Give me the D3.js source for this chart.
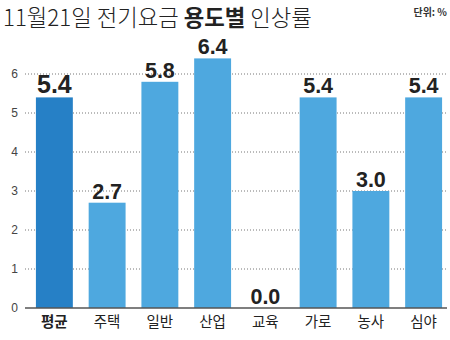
<!DOCTYPE html>
<html><head><meta charset="utf-8">
<script src="https://cdn.jsdelivr.net/npm/d3@7"></script>
<style>
body{margin:0;background:#fff;}
svg{display:block;}
</style></head>
<body>
<svg id="c" width="450" height="340"></svg>
<script>
const categories = ["평균","주택","일반","산업","교육","가로","농사","심야"];
const values = [5.4, 2.7, 5.8, 6.4, 0.0, 5.4, 3.0, 5.4];
const valueLabels = ["5.4","2.7","5.8","6.4","0.0","5.4","3.0","5.4"];
const yTicks = [0,1,2,3,4,5,6];
const titleParts = [["11월21일 전기요금 ",300],["용도별",700],[" 인상률",300]];
const unitLabel = "단위: %";

const svg = d3.select("#c");
const x = d3.scaleBand().domain(categories).range([28,450]).paddingInner(0.3).paddingOuter(0.15);
const y = d3.scaleLinear().domain([0,6]).range([308,74]);
const kr = "'Noto Sans CJK KR','Noto Sans',sans-serif";
const num = "'Liberation Sans',Arial,sans-serif";

// title
const t = svg.append("text").attr("x",3).attr("y",26)
  .style("font-family",kr).style("font-size","22.3px").attr("fill","#222");
titleParts.forEach(p=>t.append("tspan").text(p[0]).style("font-weight",p[1]));
svg.append("text").attr("x",447).attr("y",16).attr("text-anchor","end")
  .style("font-family",kr).style("font-size","10px").style("font-weight",700).attr("fill","#333").text(unitLabel);

// gridlines
svg.append("g").selectAll("line").data(yTicks.filter(d=>d>0)).join("line")
  .attr("x1",25).attr("x2",447).attr("y1",d=>y(d)).attr("y2",d=>y(d))
  .attr("stroke","#777").attr("stroke-width",1).attr("stroke-dasharray","1,2");

// y tick labels
svg.append("g").selectAll("text").data(yTicks).join("text")
  .attr("x",18).attr("y",d=>y(d)).attr("dy","0.35em").attr("text-anchor","end")
  .style("font-family","'Liberation Sans',sans-serif").style("font-size","12px").attr("fill","#444")
  .text(d=>d);

// bars
svg.append("g").selectAll("rect").data(values).join("rect")
  .attr("x",(d,i)=>x(categories[i])).attr("width",x.bandwidth())
  .attr("y",d=>y(d)).attr("height",d=>y(0)-y(d))
  .attr("fill",(d,i)=>i===0?"#2680C6":"#4EA8DF");

// baseline
svg.append("line").attr("x1",25).attr("x2",447).attr("y1",y(0)).attr("y2",y(0))
  .attr("stroke","#555").attr("stroke-width",1.5);

// value labels
svg.append("g").selectAll("text").data(values).join("text")
  .attr("x",(d,i)=>x(categories[i])+x.bandwidth()/2)
  .attr("y",d=>y(d)-4).attr("text-anchor","middle")
  .style("font-family",num).style("font-weight",700)
  .style("font-size",(d,i)=>i===0?"25px":"21.5px").attr("fill","#222")
  .text((d,i)=>valueLabels[i]);

// category labels
svg.append("g").selectAll("text").data(categories).join("text")
  .attr("x",d=>x(d)+x.bandwidth()/2).attr("y",327).attr("text-anchor","middle")
  .style("font-family",kr).style("font-size","14.5px")
  .style("font-weight",(d,i)=>i===0?700:400).attr("fill","#222")
  .text(d=>d);
</script>
</body></html>
